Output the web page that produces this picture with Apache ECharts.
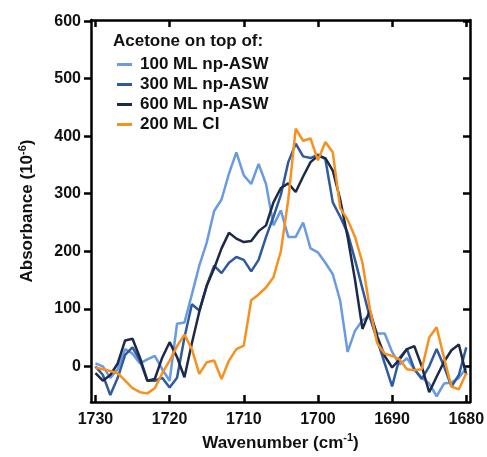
<!DOCTYPE html>
<html>
<head>
<meta charset="utf-8">
<script src="https://cdn.jsdelivr.net/npm/echarts@6/dist/echarts.min.js"></script>
<style>
  html, body { margin: 0; padding: 0; background: #fff; }
  #chart { width: 487px; height: 457px; }
</style>
</head>
<body>
<div id="chart"></div>
<script>
// wavenumber grid, 1730 -> 1680 cm-1
var wavenumbers = [1730, 1729, 1728, 1727, 1726, 1725, 1724, 1723, 1722, 1721,
    1720, 1719, 1718, 1717, 1716, 1715, 1714, 1713, 1712, 1711,
    1710, 1709, 1708, 1707, 1706, 1705, 1704, 1703, 1702, 1701,
    1700, 1699, 1698, 1697, 1696, 1695, 1694, 1693, 1692, 1691,
    1690, 1689, 1688, 1687, 1686, 1685, 1684, 1683, 1682, 1681, 1680];

var asw100 = [5, 0, -20, -5, 30, 22, 5, 12, 18, -5,
    -25, 74, 76, 125, 175, 215, 270, 290, 335, 372,
    332, 317, 352, 317, 245, 271, 225, 225, 250, 205,
    198, 180, 160, 114, 25, 62, 80, 88, 57, 57,
    25, 3, 14, -5, -20, -30, -52, -30, -28, -20, -3];

var asw300 = [0, -15, -50, -20, 20, 33, 10, -25, -25, -20,
    -37, -20, 50, 108, 97, 140, 175, 162, 180, 190,
    185, 165, 185, 225, 260, 298, 355, 387, 365, 362,
    368, 360, 285, 260, 232, 185, 135, 85, 45, 5,
    -35, 15, 30, -5, -22, 0, 30, 0, -35, -15, 33];

var asw600 = [-12, -25, -15, 5, 45, 48, 15, -25, -22, 15,
    42, 16, -19, 40, 95, 140, 170, 205, 232, 222,
    216, 218, 235, 245, 285, 310, 318, 303, 330, 355,
    366, 362, 340, 290, 225, 150, 65, 97, 52, 18,
    -2, 12, 30, 35, 0, -45, -18, 8, 28, 38, -15];

var ci200 = [-2, -5, -8, -12, -25, -38, -45, -47, -38, -12,
    10, 35, 55, 30, -13, 7, 10, -22, 10, 30,
    36, 115, 125, 137, 155, 200, 290, 413, 392, 396,
    358, 390, 372, 275, 255, 225, 180, 100, 40, 22,
    18, 12, -5, -7, -5, 50, 68, 15, -35, -40, -12];

var seriesNames = ['100 ML np-ASW', '300 ML np-ASW', '600 ML np-ASW', '200 ML CI'];
var seriesColors = ['#6a9be0', '#2f5a9e', '#1c2a48', '#f7901e'];
var xTicks = [1730, 1720, 1710, 1700, 1690, 1680];
var yTicks = [0, 100, 200, 300, 400, 500, 600];

function pairs(vals) {
    return wavenumbers.map(function(w, i) { return [w, vals[i]]; });
}

var myChart = echarts.init(document.getElementById('chart'));
var font = 'Liberation Sans, Arial, sans-serif';
var supStyle = { fontFamily: font, fontWeight: 'bold', fontSize: 11, color: '#111', verticalAlign: 'bottom', padding: [0, 0, 10, 0] };

var option = {
    animation: false,
    backgroundColor: '#fff',
    grid: { left: 91, right: 17, top: 20, bottom: 55, containLabel: false, outerBoundsMode: 'none' },
    legend: {
        data: seriesNames,
        orient: 'vertical',
        left: 112,
        top: 51,
        icon: 'rect',
        itemWidth: 15,
        itemHeight: 3,
        itemGap: 3,
        textStyle: { fontFamily: font, fontWeight: 'bold', fontSize: 17, color: '#111', lineHeight: 17, padding: [0, 0, 0, 3] }
    },
    graphic: [{
        type: 'text',
        left: 113,
        top: 33,
        style: { text: 'Acetone on top of:', font: 'bold 17px ' + font, fill: '#111' }
    }],
    xAxis: [{
        type: 'value',
        inverse: true,
        min: 1679.5,
        max: 1730.6,
        position: 'bottom',
        name: 'Wavenumber (cm{sup|-1})',
        nameLocation: 'middle',
        nameGap: 30,
        nameTextStyle: { fontFamily: font, fontWeight: 'bold', fontSize: 17, color: '#111', rich: { sup: supStyle } },
        axisLine: { onZero: false, lineStyle: { color: '#000', width: 2.5 } },
        axisTick: { inside: true, length: 7, lineStyle: { width: 2.5, color: '#000' }, customValues: xTicks },
        axisLabel: {
            customValues: xTicks, margin: 10, fontFamily: font, fontWeight: 'bold', fontSize: 16, color: '#111',
            formatter: function(v) { return String(v); }
        },
        splitLine: { show: false }
    }, {
        type: 'value',
        inverse: true,
        min: 1679.5,
        max: 1730.6,
        position: 'top',
        axisLine: { onZero: false, lineStyle: { color: '#000', width: 2.5 } },
        axisTick: { inside: true, length: 7, lineStyle: { width: 2.5, color: '#000' }, customValues: xTicks },
        axisLabel: { show: false },
        splitLine: { show: false }
    }],
    yAxis: [{
        type: 'value',
        min: -62,
        max: 602,
        position: 'left',
        name: 'Absorbance (10{sup|-6})',
        nameLocation: 'middle',
        nameGap: 53,
        nameTextStyle: { fontFamily: font, fontWeight: 'bold', fontSize: 17, color: '#111', rich: { sup: supStyle } },
        axisLine: { onZero: false, lineStyle: { color: '#000', width: 2.5 } },
        axisTick: { inside: false, length: 7, lineStyle: { width: 2.5, color: '#000' }, customValues: yTicks },
        axisLabel: { customValues: yTicks, margin: 10, fontFamily: font, fontWeight: 'bold', fontSize: 16, color: '#111' },
        splitLine: { show: false }
    }, {
        type: 'value',
        min: -62,
        max: 602,
        position: 'right',
        axisLine: { onZero: false, lineStyle: { color: '#000', width: 2.5 } },
        axisTick: { inside: true, length: 7, lineStyle: { width: 2.5, color: '#000' }, customValues: yTicks },
        axisLabel: { show: false },
        splitLine: { show: false }
    }],
    series: [asw100, asw300, asw600, ci200].map(function(vals, i) {
        return {
            name: seriesNames[i],
            type: 'line',
            data: pairs(vals),
            showSymbol: false,
            color: seriesColors[i],
            lineStyle: { width: 2.5, color: seriesColors[i] }
        };
    })
};

myChart.setOption(option);
</script>
</body>
</html>
